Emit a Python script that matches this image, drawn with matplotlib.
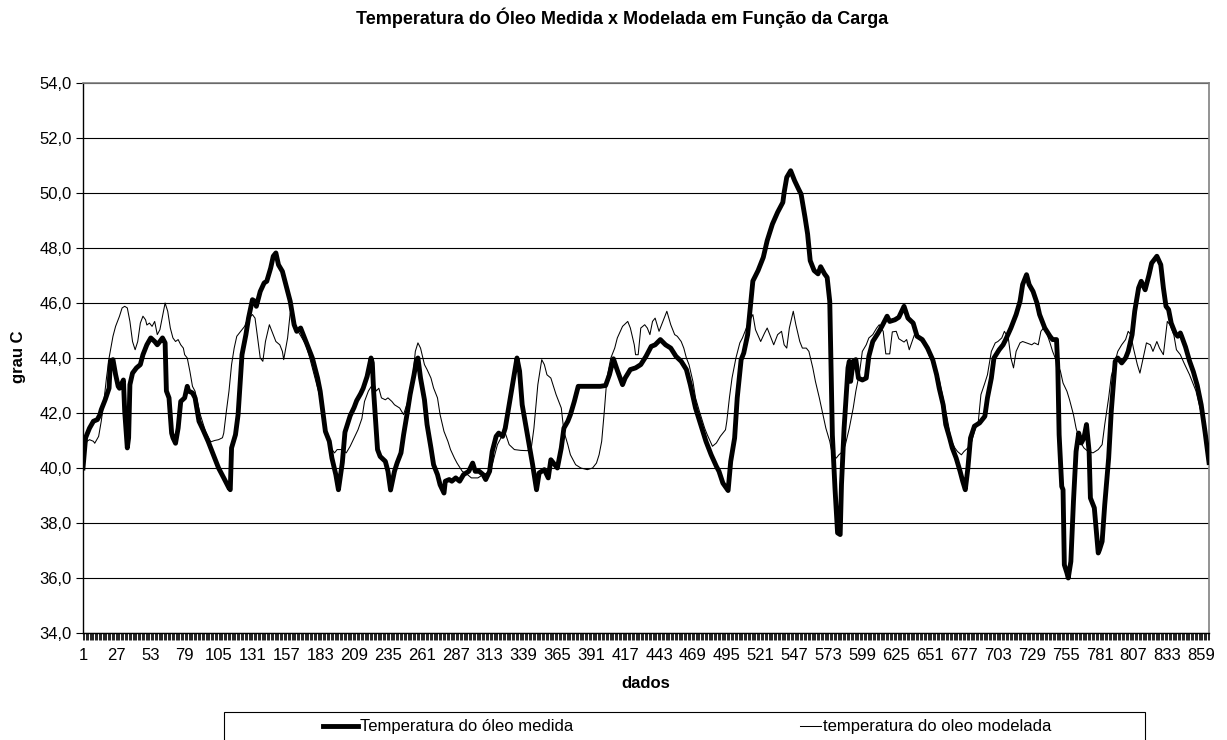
import numpy as np
import matplotlib.pyplot as plt
from matplotlib.patches import Rectangle
from matplotlib.lines import Line2D

# Leituras do gráfico: índice do dado e temperatura (grau C)
n_dados = 865

medida_idx = [1, 3, 6, 9, 12, 14, 15, 18, 21, 22, 24, 26, 28, 29, 32, 33, 35, 36, 37, 39,
              42, 45, 47, 50, 53, 56, 58, 60, 62, 64, 65, 67, 69, 70, 72, 74, 76, 79, 81, 82,
              85, 87, 90, 93, 97, 101, 105, 109, 113, 114, 115, 118, 120, 123, 126, 128, 131, 133, 134, 137,
              140, 142, 145, 147, 149, 151, 154, 156, 160, 163, 165, 168, 170, 173, 177, 181, 183, 187, 190, 192,
              195, 197, 200, 202, 206, 209, 211, 214, 216, 219, 222, 223, 224, 227, 229, 233, 235, 237, 240, 242,
              245, 247, 250, 252, 255, 257, 258, 260, 263, 265, 268, 270, 273, 275, 278, 279, 282, 284, 287, 290,
              293, 297, 300, 302, 305, 308, 310, 313, 315, 318, 320, 323, 325, 328, 331, 334, 336, 338, 342, 346,
              349, 351, 355, 358, 360, 363, 365, 368, 370, 373, 375, 378, 381, 386, 391, 396, 398, 402, 405, 408,
              411, 415, 417, 421, 425, 429, 433, 437, 440, 444, 448, 452, 456, 460, 464, 467, 471, 475, 479, 483,
              487, 489, 492, 496, 498, 501, 503, 506, 508, 511, 512, 514, 515, 519, 523, 526, 530, 534, 538, 539,
              541, 544, 547, 550, 552, 555, 557, 559, 562, 565, 567, 570, 572, 574, 575, 576, 578, 580, 582, 583,
              585, 588, 589, 590, 592, 594, 596, 599, 602, 604, 607, 611, 614, 618, 620, 624, 627, 631, 634, 638,
              641, 645, 649, 653, 656, 658, 661, 663, 666, 668, 671, 674, 676, 678, 680, 682, 685, 689, 693, 695,
              698, 700, 704, 707, 709, 713, 717, 720, 722, 725, 727, 730, 733, 735, 739, 743, 745, 748, 749, 750,
              752, 753, 754, 756, 757, 759, 761, 763, 765, 767, 769, 771, 773, 774, 777, 780, 781, 783, 785, 788,
              790, 793, 795, 798, 801, 803, 806, 808, 811, 813, 816, 819, 821, 825, 828, 830, 832, 834, 836, 839,
              841, 843, 844, 847, 850, 853, 856, 859, 862, 865]
medida_val = [40.0, 41.1, 41.45, 41.7, 41.76, 41.94, 42.12, 42.48, 42.9, 43.88, 43.94, 43.4, 42.97, 42.9, 43.2, 42.06, 40.73, 41.1, 43.03, 43.45,
              43.64, 43.76, 44.12, 44.48, 44.73, 44.6, 44.48, 44.6, 44.73, 44.55, 42.8, 42.55, 41.27, 41.1, 40.9, 41.45, 42.42, 42.55, 42.97, 42.8,
              42.73, 42.55, 41.7, 41.4, 40.97, 40.48, 40.0, 39.64, 39.27, 39.21, 40.73, 41.21, 41.94, 44.12, 44.85, 45.45, 46.12, 46.06, 45.88, 46.42,
              46.73, 46.79, 47.27, 47.7, 47.82, 47.39, 47.15, 46.79, 46.06, 45.21, 44.97, 45.09, 44.85, 44.48, 44.0, 43.27, 42.79, 41.33, 40.97, 40.36,
              39.76, 39.21, 40.2, 41.3, 41.9, 42.2, 42.45, 42.7, 42.9, 43.33, 44.0, 43.82, 42.79, 40.67, 40.42, 40.24, 39.88, 39.2, 39.88, 40.18,
              40.55, 41.21, 42.06, 42.67, 43.39, 43.94, 44.0, 43.27, 42.48, 41.58, 40.73, 40.12, 39.76, 39.39, 39.09, 39.52, 39.58, 39.52, 39.64, 39.52,
              39.76, 39.88, 40.18, 39.88, 39.88, 39.76, 39.58, 39.88, 40.6, 41.15, 41.27, 41.15, 41.45, 42.3, 43.15, 44.0, 43.52, 42.3, 41.21, 40.12,
              39.21, 39.82, 39.94, 39.64, 40.3, 40.12, 40.0, 40.73, 41.45, 41.7, 41.94, 42.42, 42.97, 42.97, 42.97, 42.97, 42.97, 43.0, 43.4, 43.97,
              43.55, 43.03, 43.27, 43.58, 43.64, 43.76, 44.06, 44.42, 44.48, 44.67, 44.48, 44.36, 44.06, 43.88, 43.58, 43.03, 42.18, 41.58, 40.97, 40.48,
              40.06, 39.88, 39.45, 39.18, 40.24, 41.09, 42.55, 43.94, 44.18, 44.85, 45.33, 46.33, 46.8, 47.18, 47.66, 48.27, 48.87, 49.3, 49.66, 50.02,
              50.57, 50.81, 50.45, 50.15, 49.96, 49.12, 48.51, 47.54, 47.18, 47.06, 47.32, 47.06, 46.93, 46.06, 43.64, 41.2, 39.27, 37.64, 37.58, 39.4,
              41.45, 43.64, 43.88, 43.15, 43.88, 43.94, 43.27, 43.2, 43.27, 44.06, 44.6, 44.9, 45.15, 45.52, 45.33, 45.39, 45.48, 45.88, 45.45, 45.27,
              44.79, 44.67, 44.36, 43.94, 43.39, 42.9, 42.3, 41.58, 41.09, 40.73, 40.36, 39.88, 39.52, 39.21, 40.0, 41.09, 41.52, 41.64, 41.88, 42.55,
              43.27, 44.0, 44.3, 44.48, 44.67, 45.09, 45.58, 46.06, 46.67, 47.03, 46.67, 46.42, 46.0, 45.58, 45.09, 44.79, 44.67, 44.67, 43.64, 41.21,
              39.33, 39.21, 36.48, 36.18, 36.0, 36.6, 38.79, 40.6, 41.27, 40.91, 41.09, 41.58, 40.6, 38.91, 38.55, 36.91, 37.03, 37.33, 38.67, 40.36,
              42.06, 43.88, 44.0, 43.82, 44.0, 44.24, 44.85, 45.7, 46.55, 46.79, 46.48, 47.03, 47.45, 47.7, 47.39, 46.55, 45.88, 45.76, 45.27, 44.91,
              44.79, 44.91, 44.79, 44.4, 43.9, 43.5, 43.0, 42.3, 41.3, 40.2]

modelada_idx = [1, 4, 6, 9, 10, 13, 15, 17, 19, 21, 24, 26, 29, 31, 33, 35, 37, 39, 41, 43,
                45, 47, 49, 50, 52, 54, 56, 58, 60, 62, 64, 66, 68, 70, 72, 74, 76, 78, 79, 81,
                83, 85, 87, 91, 95, 99, 102, 105, 108, 109, 111, 113, 115, 117, 119, 122, 125, 127, 131, 133,
                135, 137, 139, 141, 144, 147, 149, 152, 154, 155, 158, 160, 163, 166, 169, 172, 175, 179, 183, 186,
                188, 191, 194, 196, 200, 203, 206, 209, 212, 215, 217, 220, 224, 226, 228, 230, 233, 235, 238, 240,
                244, 247, 251, 254, 256, 258, 260, 263, 265, 268, 270, 273, 275, 278, 281, 283, 286, 288, 292, 296,
                299, 304, 307, 311, 315, 319, 323, 325, 328, 332, 337, 342, 345, 347, 350, 353, 355, 357, 360, 364,
                368, 370, 373, 375, 379, 383, 388, 392, 395, 397, 399, 401, 403, 406, 409, 411, 415, 419, 421, 424,
                425, 427, 429, 432, 434, 436, 438, 440, 443, 446, 449, 452, 455, 457, 460, 462, 464, 466, 469, 471,
                474, 478, 480, 484, 487, 490, 494, 495, 497, 499, 502, 505, 507, 510, 512, 515, 517, 521, 524, 526,
                529, 531, 534, 537, 539, 541, 543, 546, 548, 551, 553, 556, 558, 561, 563, 566, 569, 571, 574, 576,
                579, 581, 584, 586, 589, 592, 594, 597, 599, 602, 604, 607, 610, 612, 615, 617, 620, 622, 625, 627,
                631, 633, 635, 639, 643, 648, 650, 654, 658, 662, 665, 667, 670, 672, 675, 677, 680, 683, 685, 688,
                690, 693, 695, 698, 701, 703, 706, 708, 711, 713, 715, 717, 720, 722, 725, 729, 731, 734, 736, 738,
                740, 743, 745, 748, 751, 753, 756, 758, 761, 763, 766, 769, 772, 776, 780, 783, 785, 788, 790, 793,
                795, 798, 801, 803, 805, 807, 810, 812, 815, 817, 820, 822, 825, 827, 830, 833, 835, 838, 840, 843,
                846, 850, 855, 860, 865]
modelada_val = [40.48, 40.97, 41.03, 40.97, 40.9, 41.15, 41.7, 42.42, 43.27, 44.0, 44.79, 45.15, 45.52, 45.82, 45.88, 45.82, 45.33, 44.6, 44.3, 44.6,
                45.27, 45.52, 45.39, 45.2, 45.27, 45.15, 45.33, 44.85, 45.03, 45.52, 46.0, 45.7, 45.09, 44.73, 44.6, 44.67, 44.48, 44.36, 44.12, 44.0,
                43.52, 42.97, 42.79, 41.94, 41.33, 40.95, 41.0, 41.03, 41.1, 41.27, 42.06, 42.79, 43.76, 44.36, 44.79, 44.97, 45.15, 45.39, 45.58, 45.45,
                44.73, 44.0, 43.88, 44.6, 45.21, 44.85, 44.6, 44.48, 44.24, 43.94, 44.73, 45.64, 45.33, 44.97, 44.73, 44.48, 44.0, 43.27, 42.55, 41.7,
                41.27, 40.73, 40.55, 40.67, 40.67, 40.55, 40.79, 41.09, 41.39, 41.8, 42.42, 42.8, 43.1, 42.8, 42.9, 42.55, 42.48, 42.55, 42.42, 42.3,
                42.18, 41.94, 42.55, 43.27, 44.24, 44.55, 44.36, 43.76, 43.58, 43.27, 42.91, 42.55, 41.94, 41.33, 40.97, 40.67, 40.36, 40.18, 39.88, 39.76,
                39.64, 39.64, 39.73, 39.82, 40.12, 40.85, 41.21, 41.27, 40.85, 40.67, 40.64, 40.63, 40.73, 41.45, 43.03, 43.94, 43.76, 43.39, 43.27, 42.67,
                42.18, 41.33, 40.85, 40.48, 40.12, 40.0, 39.94, 40.0, 40.18, 40.48, 40.97, 42.06, 43.27, 44.0, 44.36, 44.73, 45.15, 45.33, 45.09, 44.48,
                44.12, 44.12, 45.09, 45.21, 45.09, 44.85, 45.33, 45.45, 44.97, 45.33, 45.7, 45.21, 44.85, 44.79, 44.6, 44.36, 44.0, 43.76, 43.15, 42.55,
                42.06, 41.45, 41.21, 40.79, 40.91, 41.15, 41.39, 41.7, 42.55, 43.27, 44.0, 44.55, 44.73, 45.09, 45.33, 45.58, 45.03, 44.6, 44.91, 45.09,
                44.73, 44.48, 44.85, 44.97, 44.48, 44.36, 45.09, 45.7, 45.21, 44.6, 44.36, 44.36, 44.24, 43.64, 43.15, 42.55, 41.88, 41.45, 40.97, 40.48,
                40.36, 40.48, 40.6, 40.85, 41.45, 42.18, 42.79, 43.52, 44.24, 44.48, 44.73, 44.85, 45.09, 45.21, 44.97, 44.15, 44.15, 44.95, 44.97, 44.7,
                44.58, 44.67, 44.3, 44.85, 44.67, 44.42, 44.12, 43.7, 43.21, 42.3, 41.58, 41.03, 40.73, 40.6, 40.48, 40.6, 40.73, 40.97, 41.33, 41.7,
                42.67, 43.09, 43.39, 44.24, 44.55, 44.6, 44.73, 44.97, 44.73, 44.0, 43.64, 44.24, 44.55, 44.6, 44.55, 44.48, 44.55, 44.48, 44.97, 45.09,
                44.97, 44.55, 44.24, 43.88, 43.52, 43.09, 42.79, 42.48, 41.94, 41.45, 40.97, 40.73, 40.61, 40.55, 40.67, 40.85, 41.58, 42.55, 43.33, 43.88,
                44.24, 44.48, 44.67, 44.97, 44.85, 44.36, 43.76, 43.45, 44.12, 44.55, 44.48, 44.24, 44.6, 44.36, 44.12, 45.33, 45.21, 44.85, 44.3, 44.12,
                43.8, 43.4, 42.8, 41.8, 40.4]

rotulos_x = list(range(1, 860, 26))
rotulos_y = list(range(34, 55, 2))

W, H = 1227, 740
fig = plt.figure(figsize=(W / 100, H / 100), dpi=100)
plt.rcParams['font.family'] = ['Liberation Sans', 'DejaVu Sans']

# area do grafico em pixels
x0, x1, y0, y1 = 83, 1209, 83, 633
ax = fig.add_axes([x0 / W, 1 - y1 / H, (x1 - x0) / W, (y1 - y0) / H])

ax.plot(modelada_idx, modelada_val, color='black', lw=0.75, zorder=3)
ax.plot(medida_idx, medida_val, color='black', lw=3.5, solid_joinstyle='round', zorder=4)

ax.set_xlim(1, n_dados)
ax.set_ylim(34, 54)
ax.set_xticks(rotulos_x)
ax.set_xticklabels([str(v) for v in rotulos_x], fontsize=12)
ax.set_xticks(range(1, n_dados + 1), minor=True)
ax.set_yticks(rotulos_y)
ax.set_yticklabels([('%.1f' % v).replace('.', ',') for v in rotulos_y], fontsize=12)
ax.tick_params(axis='x', which='both', direction='out', length=5, width=0.6, pad=6)
ax.tick_params(axis='y', direction='out', length=5, width=0.8, pad=3)

ax.grid(axis='y', color='black', lw=0.8, zorder=1)
ax.set_axisbelow(True)
for s in ['top', 'right']:
    ax.spines[s].set_color('#808080')
    ax.spines[s].set_linewidth(1.2)
for s in ['left', 'bottom']:
    ax.spines[s].set_color('black')
    ax.spines[s].set_linewidth(1.0)

fig.text(622 / W, 1 - 18 / H, 'Temperatura do Óleo Medida x Modelada em Função da Carga',
         ha='center', va='center', fontsize=13, fontweight='bold')
fig.text(646 / W, 1 - 683 / H, 'dados', ha='center', va='center', fontsize=12, fontweight='bold')
fig.text(18 / W, 1 - 357 / H, 'grau C', ha='center', va='center', rotation=90,
         fontsize=12, fontweight='bold')

# legenda desenhada a mao (caixa cortada na borda inferior)
fig.add_artist(Rectangle((224 / W, 1 - 750 / H), (1145 - 224) / W, 38 / H,
                         transform=fig.transFigure, fill=False, ec='black', lw=0.8))
fig.add_artist(Line2D([323 / W, 358 / W], [1 - 726 / H] * 2, transform=fig.transFigure,
                      color='black', lw=3.5))
fig.text(360 / W, 1 - 726 / H, 'Temperatura do óleo medida', va='center', fontsize=12)
fig.add_artist(Line2D([800 / W, 821 / W], [1 - 726 / H] * 2, transform=fig.transFigure,
                      color='black', lw=0.75))
fig.text(823 / W, 1 - 726 / H, 'temperatura do oleo modelada', va='center', fontsize=12)

fig.savefig('out.png', dpi=100)
